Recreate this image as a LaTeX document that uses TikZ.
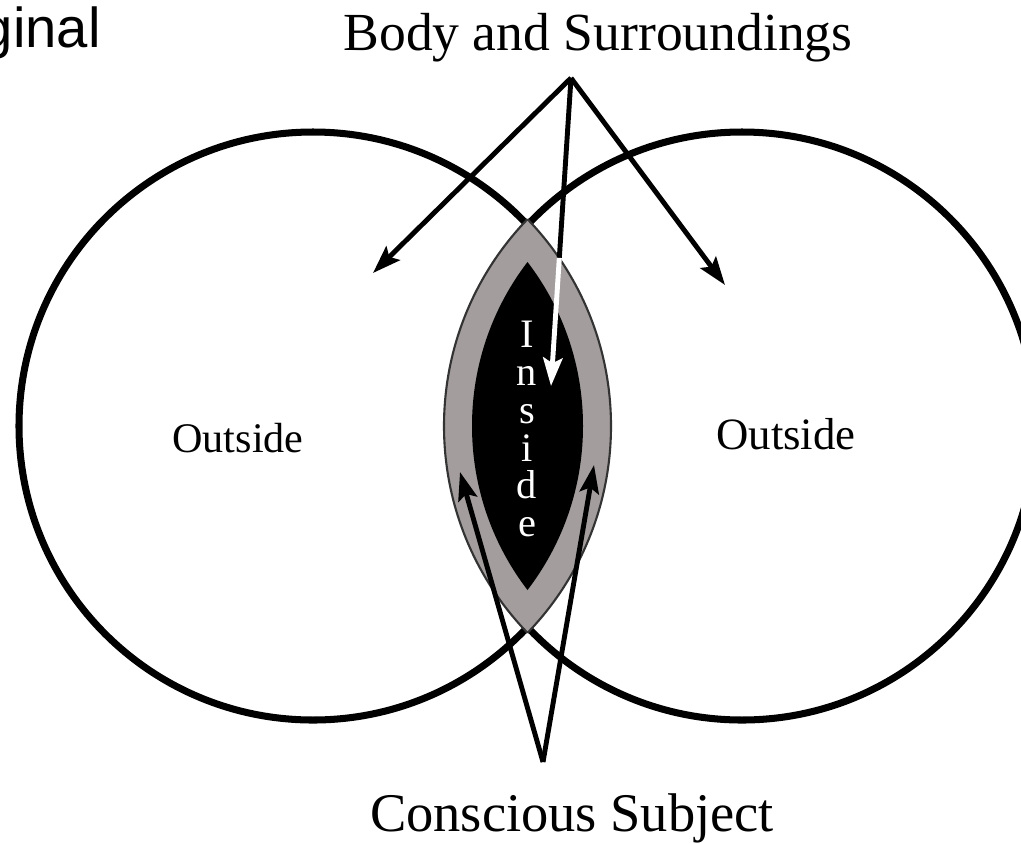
\documentclass[tikz,border=0pt]{standalone}
\usepackage{fontspec}
\setmainfont{Liberation Serif}
\newfontfamily\helv{Liberation Sans}
\usetikzlibrary{arrows.meta,calc}
\definecolor{lensgray}{RGB}{163,157,157}
\tikzset{
  ring/.style={line width=4pt, draw=black},
  ptr/.style={line width=2.8pt, -{Stealth[length=16pt,width=11pt,inset=3pt]}},
  lbl/.style={font=\fontsize{30.5}{36}\selectfont, inner sep=0pt},
  side/.style={font=\fontsize{24}{28}\selectfont, inner sep=0pt}
}
\begin{document}
\begin{tikzpicture}[x=0.02cm,y=-0.02cm]
\clip (0,0) rectangle (1021,843);
\fill[white] (0,0) rectangle (1021,843);
% circles
\draw[ring] (313,426) circle[radius=294];
\draw[ring] (742,426) circle[radius=294];
% gray lens
\begin{scope}
  \clip (313,426) circle[radius=298];
  \fill[lensgray] (742,426) circle[radius=298];
  \draw[line width=1.2pt, draw=black!80] (742,426) circle[radius=298];
\end{scope}
\begin{scope}
  \clip (742,426) circle[radius=298];
  \draw[line width=1.2pt, draw=black!80] (313,426) circle[radius=298];
\end{scope}
% black lens
\begin{scope}
  \clip (313,426) circle[radius=270];
  \fill[black] (742,426) circle[radius=270];
\end{scope}
% texts
\node[font=\helv\fontsize{32}{36}\selectfont, anchor=base east, inner sep=0pt] (orig) at (101,47) {ginal};
\node[lbl, anchor=base] (body) at (598,50) {Body and Surroundings};
\node[lbl, font=\fontsize{31}{36}\selectfont, anchor=base] (subj) at (572,831) {Conscious Subject};
\node[side] (outl) at (238,438) {Outside};
\node[side, font=\fontsize{25.5}{30}\selectfont] (outr) at (786,434) {Outside};
\node[font=\fontsize{23}{21.6}\selectfont, text=white, align=center, inner sep=0pt] (ins) at (527,429) {I\\n\\s\\i\\d\\e};
% arrows
\coordinate (apex) at (571,78);
\coordinate (ltip) at (373,273);
\coordinate (rtip) at (725,285);
\coordinate (ctip) at (551,386);
\coordinate (cmid) at ($(apex)!0.584!(ctip)$);
\coordinate (bapex) at (543,762);
\coordinate (bl) at (460,472);
\coordinate (br) at (594,465);
\draw[ptr] (apex) -- (ltip);
\draw[ptr] (apex) -- (rtip);
\draw[line width=2.8pt] (apex) -- (cmid);
\draw[ptr, white] (cmid) -- (ctip);
\draw[ptr] (bapex) -- (bl);
\draw[ptr] (bapex) -- (br);
\end{tikzpicture}
\end{document}
